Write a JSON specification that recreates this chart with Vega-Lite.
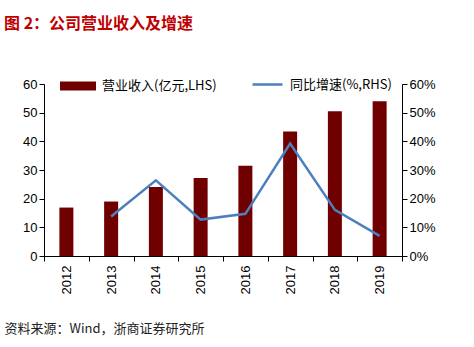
{
  "$schema": "https://vega.github.io/schema/vega-lite/v6.json",
  "autosize": {"type": "none"},
  "width": 358,
  "height": 172,
  "padding": {"left": 44, "top": 84, "right": 72, "bottom": 91},
  "background": "white",
  "title": {
    "text": "图  2：公司营业收入及增速",
    "anchor": "start",
    "frame": "group",
    "dx": -40,
    "offset": 36,
    "font": "Noto Sans CJK SC",
    "fontSize": 16,
    "fontWeight": "bold",
    "color": "#C00000"
  },
  "data": {
    "values": [
      {"year": "2012", "revenue": 16.9, "growth": null},
      {"year": "2013", "revenue": 19.0, "growth": 0.138},
      {"year": "2014", "revenue": 24.1, "growth": 0.264},
      {"year": "2015", "revenue": 27.2, "growth": 0.127},
      {"year": "2016", "revenue": 31.5, "growth": 0.147},
      {"year": "2017", "revenue": 43.4, "growth": 0.392},
      {"year": "2018", "revenue": 50.5, "growth": 0.161},
      {"year": "2019", "revenue": 54.0, "growth": 0.07}
    ]
  },
  "encoding": {
    "x": {
      "field": "year",
      "type": "ordinal",
      "scale": {"paddingInner": 0, "paddingOuter": 0},
      "axis": {
        "title": "资料来源：Wind，浙商证券研究所",
        "titleFont": "Noto Sans CJK SC",
        "titleFontSize": 13,
        "titleFontWeight": "normal",
        "titleColor": "#222222",
        "titleAnchor": "start",
        "titleAlign": "left",
        "titleX": -40,
        "titleY": 66,
        "labelAngle": 270,
        "labelAlign": "right",
        "labelBaseline": "middle",
        "labelFont": "Liberation Sans",
        "labelFontSize": 13,
        "labelColor": "#000000",
        "labelPadding": 4,
        "tickBand": "extent",
        "tickSize": 5,
        "tickColor": "#000000",
        "domainColor": "#000000",
        "grid": false
      }
    }
  },
  "layer": [
    {
      "mark": {"type": "bar", "width": 14},
      "encoding": {
        "y": {
          "field": "revenue",
          "type": "quantitative",
          "scale": {"domain": [0, 60]},
          "axis": {
            "title": null,
            "values": [0, 10, 20, 30, 40, 50, 60],
            "labelFont": "Liberation Sans",
            "labelFontSize": 13,
            "labelColor": "#000000",
            "tickSize": 5,
            "tickColor": "#000000",
            "domainColor": "#000000",
            "grid": false
          }
        },
        "fill": {
          "datum": "营业收入(亿元,LHS)",
          "scale": {"range": ["#700000"]},
          "legend": {
            "title": null,
            "orient": "none",
            "legendX": 16,
            "legendY": -16,
            "symbolType": "M-1,-0.25H1V0.25H-1Z",
            "symbolSize": 1296,
            "symbolStrokeWidth": 0,
            "labelFont": "Noto Sans CJK SC",
            "labelFontSize": 13,
            "labelColor": "#000000",
            "labelOffset": 6
          }
        }
      }
    },
    {
      "mark": {"type": "line", "strokeWidth": 2.5},
      "transform": [{"filter": "datum.growth != null"}],
      "encoding": {
        "y": {
          "field": "growth",
          "type": "quantitative",
          "scale": {"domain": [0, 0.6]},
          "axis": {
            "title": null,
            "orient": "right",
            "format": ".0%",
            "values": [0, 0.1, 0.2, 0.3, 0.4, 0.5, 0.6],
            "labelFont": "Liberation Sans",
            "labelFontSize": 13,
            "labelColor": "#000000",
            "tickSize": 5,
            "tickColor": "#000000",
            "domainColor": "#000000",
            "grid": false
          }
        },
        "stroke": {
          "datum": "同比增速(%,RHS)",
          "scale": {"range": ["#4D7FBF"]},
          "legend": {
            "title": null,
            "orient": "none",
            "legendX": 207,
            "legendY": -16,
            "symbolType": "stroke",
            "symbolSize": 900,
            "symbolStrokeWidth": 2.5,
            "labelFont": "Noto Sans CJK SC",
            "labelFontSize": 13,
            "labelColor": "#000000",
            "labelOffset": 6
          }
        }
      }
    }
  ],
  "resolve": {"scale": {"y": "independent"}},
  "config": {
    "view": {"stroke": null},
    "axis": {"domainWidth": 1, "tickWidth": 1}
  }
}
